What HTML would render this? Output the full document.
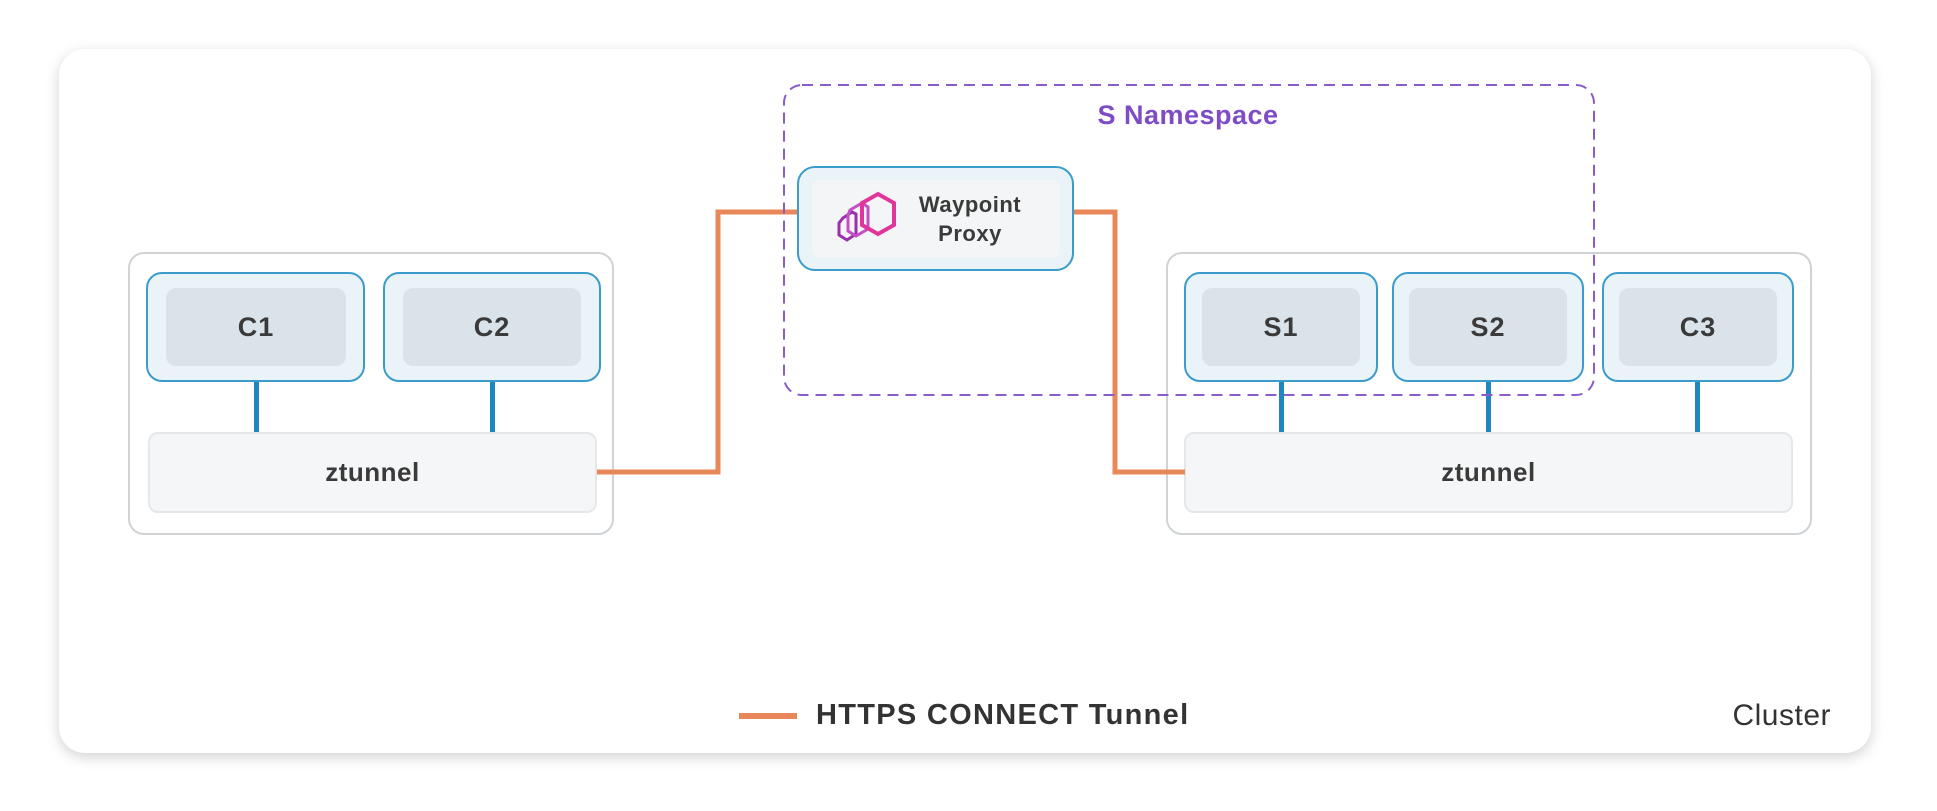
<!DOCTYPE html>
<html><head><meta charset="utf-8"><style>
body{margin:0;width:1937px;height:811px;background:#fff;position:relative;overflow:hidden;font-family:"Liberation Sans",sans-serif;color:#333}
.a{position:absolute;box-sizing:border-box}
.card{left:59px;top:49px;width:1812px;height:704px;border-radius:26px;background:#fff;box-shadow:0 4px 14px rgba(0,0,0,.18)}
.grp{border:2px solid #cfd3d6;border-radius:16px;background:#fff}
.pod{border:2px solid #3b9ccc;border-radius:16px;background:#eaf3f8}
.in{background:#dbe3ea;border-radius:10px;display:flex;align-items:center;justify-content:center;font-size:27px;font-weight:bold;color:#3a3a3a;letter-spacing:1px}
.zt{background:#f5f6f7;border:2px solid #e5e7e9;border-radius:10px;display:flex;align-items:center;justify-content:center;font-size:26px;font-weight:bold;color:#3a3a3a;letter-spacing:0.5px}
.bl{background:#1f87bd;width:5px}
</style></head><body>
<div class="a card"></div>
<div class="a grp" style="left:128px;top:252px;width:486px;height:283px"></div>
<div class="a grp" style="left:1166px;top:252px;width:646px;height:283px"></div>
<div class="a bl" style="left:254px;top:380px;height:53px"></div>
<div class="a bl" style="left:490px;top:380px;height:53px"></div>
<div class="a bl" style="left:1279px;top:380px;height:53px"></div>
<div class="a bl" style="left:1486px;top:380px;height:53px"></div>
<div class="a bl" style="left:1695px;top:380px;height:53px"></div>
<div class="a pod" style="left:146px;top:272px;width:219px;height:110px"></div>
<div class="a in" style="left:166px;top:288px;width:180px;height:78px">C1</div>
<div class="a pod" style="left:383px;top:272px;width:218px;height:110px"></div>
<div class="a in" style="left:403px;top:288px;width:178px;height:78px">C2</div>
<div class="a pod" style="left:1184px;top:272px;width:194px;height:110px"></div>
<div class="a in" style="left:1202px;top:288px;width:158px;height:78px">S1</div>
<div class="a pod" style="left:1392px;top:272px;width:192px;height:110px"></div>
<div class="a in" style="left:1409px;top:288px;width:158px;height:78px">S2</div>
<div class="a pod" style="left:1602px;top:272px;width:192px;height:110px"></div>
<div class="a in" style="left:1619px;top:288px;width:158px;height:78px">C3</div>
<div class="a zt" style="left:148px;top:432px;width:449px;height:81px">ztunnel</div>
<div class="a zt" style="left:1184px;top:432px;width:609px;height:81px">ztunnel</div>
<svg class="a" style="left:0;top:0" width="1937" height="811">
<polyline points="597,472 718,472 718,212 800,212" fill="none" stroke="#e8875a" stroke-width="5"/>
<polyline points="1073,212 1115,212 1115,472 1185,472" fill="none" stroke="#e8875a" stroke-width="5"/>
<rect x="784" y="85" width="810" height="310" rx="18" fill="none" stroke="#8a5cc9" stroke-width="2" stroke-dasharray="11,7"/>
<line x1="739" y1="716" x2="797" y2="716" stroke="#e8875a" stroke-width="6"/>
</svg>
<div class="a" style="left:797px;top:166px;width:277px;height:105px;border:2px solid #3b9ccc;border-radius:18px;background:#eaf3f8"></div>
<div class="a" style="left:812px;top:180px;width:248px;height:78px;background:#f3f5f6;border-radius:8px"></div>
<svg class="a" style="left:830px;top:190px" width="75" height="60" viewBox="0 0 75 60">
<polygon points="13,28 22,22 26,24 26,44 17,50 9,45 9,33" fill="none" stroke="#9b2fae" stroke-width="3"/>
<polygon points="20,20 32,13 38,17 38,39 26,46 18,41 18,25" fill="none" stroke="#c44fc7" stroke-width="3"/>
<polygon points="48,4 64,13 64,35 48,44 32,35 32,13" fill="none" stroke="#e0369b" stroke-width="4"/>
</svg>
<div class="a" style="left:900px;top:190px;font-size:22px;font-weight:bold;color:#3a3a3a;text-align:center;line-height:29px;width:140px;letter-spacing:0.5px">Waypoint<br>Proxy</div>
<div class="a" style="left:1068px;top:100px;width:240px;text-align:center;font-size:27px;font-weight:bold;color:#7e4cc6;letter-spacing:0.5px">S Namespace</div>
<div class="a" style="left:816px;top:699px;font-size:29px;font-weight:bold;color:#333;letter-spacing:1.3px">HTTPS CONNECT Tunnel</div>
<div class="a" style="left:1700px;top:699px;width:131px;text-align:right;font-size:30px;color:#333;letter-spacing:0.5px">Cluster</div>
</body></html>
